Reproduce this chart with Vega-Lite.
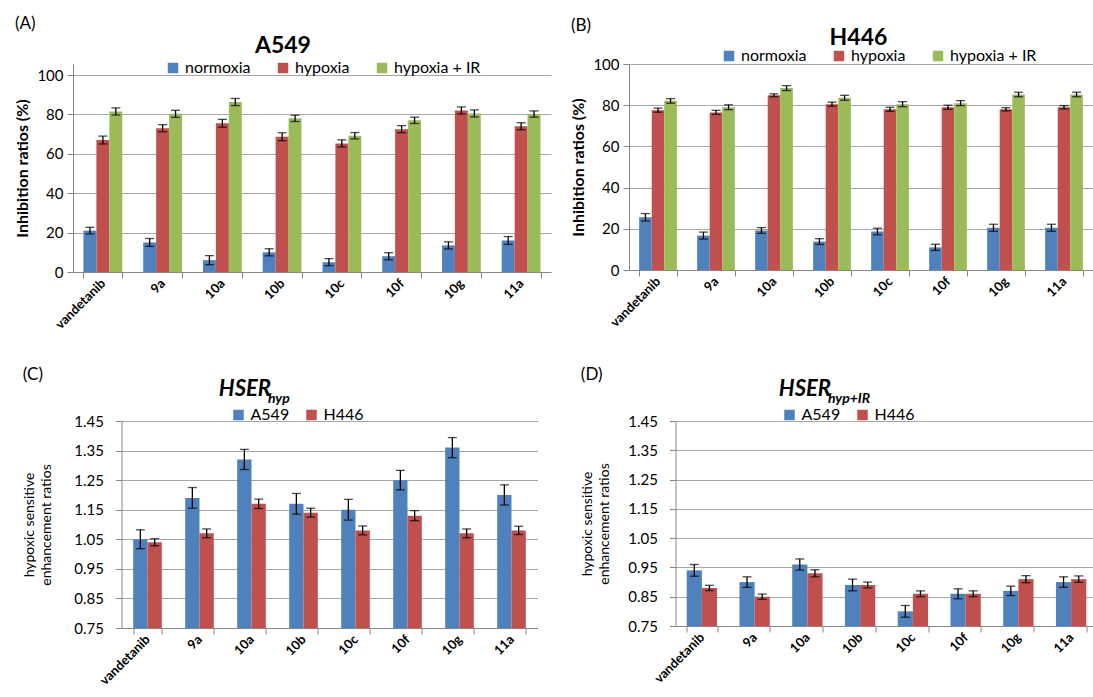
{
  "$schema": "https://vega.github.io/schema/vega-lite/v6.json",
  "autosize": {"type": "pad"},
  "padding": {"left": 14, "top": 15, "right": 0, "bottom": 0},
  "background": "white",
  "datasets": {
    "A": [
      {"compound": "vandetanib", "cond": "normoxia", "v": 21, "lo": 19.3, "hi": 22.7},
      {"compound": "vandetanib", "cond": "hypoxia", "v": 67, "lo": 65, "hi": 69},
      {"compound": "vandetanib", "cond": "hypoxia + IR", "v": 81.5, "lo": 79.7, "hi": 83.3},
      {"compound": "9a", "cond": "normoxia", "v": 15, "lo": 13, "hi": 17},
      {"compound": "9a", "cond": "hypoxia", "v": 73, "lo": 71.2, "hi": 74.8},
      {"compound": "9a", "cond": "hypoxia + IR", "v": 80.3, "lo": 78.5, "hi": 82.1},
      {"compound": "10a", "cond": "normoxia", "v": 6, "lo": 3.7, "hi": 8.3},
      {"compound": "10a", "cond": "hypoxia", "v": 75.5, "lo": 73.5, "hi": 77.5},
      {"compound": "10a", "cond": "hypoxia + IR", "v": 86.3, "lo": 84.5, "hi": 88.1},
      {"compound": "10b", "cond": "normoxia", "v": 10, "lo": 8.2, "hi": 11.8},
      {"compound": "10b", "cond": "hypoxia", "v": 68.7, "lo": 66.7, "hi": 70.7},
      {"compound": "10b", "cond": "hypoxia + IR", "v": 78, "lo": 76.4, "hi": 79.6},
      {"compound": "10c", "cond": "normoxia", "v": 5, "lo": 3.2, "hi": 6.8},
      {"compound": "10c", "cond": "hypoxia", "v": 65.3, "lo": 63.5, "hi": 67.1},
      {"compound": "10c", "cond": "hypoxia + IR", "v": 69.2, "lo": 67.6, "hi": 70.8},
      {"compound": "10f", "cond": "normoxia", "v": 8, "lo": 6.2, "hi": 9.8},
      {"compound": "10f", "cond": "hypoxia", "v": 72.5, "lo": 70.7, "hi": 74.3},
      {"compound": "10f", "cond": "hypoxia + IR", "v": 77, "lo": 75.4, "hi": 78.6},
      {"compound": "10g", "cond": "normoxia", "v": 13.5, "lo": 11.7, "hi": 15.3},
      {"compound": "10g", "cond": "hypoxia", "v": 82, "lo": 80.2, "hi": 83.8},
      {"compound": "10g", "cond": "hypoxia + IR", "v": 80.5, "lo": 78.7, "hi": 82.3},
      {"compound": "11a", "cond": "normoxia", "v": 16, "lo": 14, "hi": 18},
      {"compound": "11a", "cond": "hypoxia", "v": 74, "lo": 72.2, "hi": 75.8},
      {"compound": "11a", "cond": "hypoxia + IR", "v": 80.2, "lo": 78.6, "hi": 81.8}
    ],
    "B": [
      {"compound": "vandetanib", "cond": "normoxia", "v": 25.6, "lo": 23.8, "hi": 27.4},
      {"compound": "vandetanib", "cond": "hypoxia", "v": 77.6, "lo": 76.6, "hi": 78.6},
      {"compound": "vandetanib", "cond": "hypoxia + IR", "v": 82.1, "lo": 81, "hi": 83.2},
      {"compound": "9a", "cond": "normoxia", "v": 16.7, "lo": 15, "hi": 18.4},
      {"compound": "9a", "cond": "hypoxia", "v": 76.5, "lo": 75.5, "hi": 77.5},
      {"compound": "9a", "cond": "hypoxia + IR", "v": 79, "lo": 77.8, "hi": 80.2},
      {"compound": "10a", "cond": "normoxia", "v": 19.2, "lo": 17.8, "hi": 20.6},
      {"compound": "10a", "cond": "hypoxia", "v": 84.8, "lo": 84.1, "hi": 85.5},
      {"compound": "10a", "cond": "hypoxia + IR", "v": 88.3, "lo": 87.1, "hi": 89.5},
      {"compound": "10b", "cond": "normoxia", "v": 13.8, "lo": 12.4, "hi": 15.2},
      {"compound": "10b", "cond": "hypoxia", "v": 80.5, "lo": 79.5, "hi": 81.5},
      {"compound": "10b", "cond": "hypoxia + IR", "v": 83.6, "lo": 82.4, "hi": 84.8},
      {"compound": "10c", "cond": "normoxia", "v": 18.7, "lo": 17.1, "hi": 20.3},
      {"compound": "10c", "cond": "hypoxia", "v": 78, "lo": 77, "hi": 79},
      {"compound": "10c", "cond": "hypoxia + IR", "v": 80.5, "lo": 79.3, "hi": 81.7},
      {"compound": "10f", "cond": "normoxia", "v": 11, "lo": 9.5, "hi": 12.5},
      {"compound": "10f", "cond": "hypoxia", "v": 79, "lo": 78, "hi": 80},
      {"compound": "10f", "cond": "hypoxia + IR", "v": 81, "lo": 79.8, "hi": 82.2},
      {"compound": "10g", "cond": "normoxia", "v": 20.5, "lo": 18.8, "hi": 22.2},
      {"compound": "10g", "cond": "hypoxia", "v": 78, "lo": 77.2, "hi": 78.8},
      {"compound": "10g", "cond": "hypoxia + IR", "v": 85.2, "lo": 84.1, "hi": 86.3},
      {"compound": "11a", "cond": "normoxia", "v": 20.5, "lo": 18.8, "hi": 22.2},
      {"compound": "11a", "cond": "hypoxia", "v": 79, "lo": 78.2, "hi": 79.8},
      {"compound": "11a", "cond": "hypoxia + IR", "v": 85.2, "lo": 84.1, "hi": 86.3}
    ],
    "C": [
      {"compound": "vandetanib", "cell": "A549", "v": 1.05, "lo": 1.018, "hi": 1.082},
      {"compound": "vandetanib", "cell": "H446", "v": 1.04, "lo": 1.028, "hi": 1.052},
      {"compound": "9a", "cell": "A549", "v": 1.19, "lo": 1.155, "hi": 1.225},
      {"compound": "9a", "cell": "H446", "v": 1.07, "lo": 1.055, "hi": 1.085},
      {"compound": "10a", "cell": "A549", "v": 1.32, "lo": 1.286, "hi": 1.354},
      {"compound": "10a", "cell": "H446", "v": 1.17, "lo": 1.154, "hi": 1.186},
      {"compound": "10b", "cell": "A549", "v": 1.17, "lo": 1.135, "hi": 1.205},
      {"compound": "10b", "cell": "H446", "v": 1.14, "lo": 1.125, "hi": 1.155},
      {"compound": "10c", "cell": "A549", "v": 1.15, "lo": 1.115, "hi": 1.185},
      {"compound": "10c", "cell": "H446", "v": 1.08, "lo": 1.065, "hi": 1.095},
      {"compound": "10f", "cell": "A549", "v": 1.25, "lo": 1.217, "hi": 1.283},
      {"compound": "10f", "cell": "H446", "v": 1.13, "lo": 1.113, "hi": 1.147},
      {"compound": "10g", "cell": "A549", "v": 1.36, "lo": 1.326, "hi": 1.394},
      {"compound": "10g", "cell": "H446", "v": 1.07, "lo": 1.055, "hi": 1.085},
      {"compound": "11a", "cell": "A549", "v": 1.2, "lo": 1.166, "hi": 1.234},
      {"compound": "11a", "cell": "H446", "v": 1.08, "lo": 1.066, "hi": 1.094}
    ],
    "D": [
      {"compound": "vandetanib", "cell": "A549", "v": 0.94, "lo": 0.92, "hi": 0.96},
      {"compound": "vandetanib", "cell": "H446", "v": 0.88, "lo": 0.871, "hi": 0.889},
      {"compound": "9a", "cell": "A549", "v": 0.9, "lo": 0.882, "hi": 0.918},
      {"compound": "9a", "cell": "H446", "v": 0.85, "lo": 0.841, "hi": 0.859},
      {"compound": "10a", "cell": "A549", "v": 0.96, "lo": 0.941, "hi": 0.979},
      {"compound": "10a", "cell": "H446", "v": 0.93, "lo": 0.918, "hi": 0.942},
      {"compound": "10b", "cell": "A549", "v": 0.89, "lo": 0.87, "hi": 0.91},
      {"compound": "10b", "cell": "H446", "v": 0.89, "lo": 0.88, "hi": 0.9},
      {"compound": "10c", "cell": "A549", "v": 0.8, "lo": 0.78, "hi": 0.82},
      {"compound": "10c", "cell": "H446", "v": 0.86, "lo": 0.85, "hi": 0.87},
      {"compound": "10f", "cell": "A549", "v": 0.86, "lo": 0.843, "hi": 0.877},
      {"compound": "10f", "cell": "H446", "v": 0.86, "lo": 0.85, "hi": 0.87},
      {"compound": "10g", "cell": "A549", "v": 0.87, "lo": 0.854, "hi": 0.886},
      {"compound": "10g", "cell": "H446", "v": 0.91, "lo": 0.898, "hi": 0.922},
      {"compound": "11a", "cell": "A549", "v": 0.9, "lo": 0.882, "hi": 0.918},
      {"compound": "11a", "cell": "H446", "v": 0.91, "lo": 0.899, "hi": 0.921}
    ]
  },
  "center": true,
  "spacing": 34,
  "resolve": {"scale": {"color": "independent", "x": "independent", "y": "independent", "xOffset": "independent"}, "legend": {"color": "independent"}},
  "vconcat": [
    {
      "spacing": 19,
      "resolve": {"scale": {"color": "independent", "x": "independent", "y": "independent", "xOffset": "independent"}, "legend": {"color": "independent"}},
      "hconcat": [
        {
          "title": {"text": "(A)", "anchor": "start", "frame": "bounds", "fontSize": 17, "fontWeight": "normal", "offset": 2},
          "resolve": {"scale": {"color": "independent"}, "legend": {"color": "independent"}},
          "vconcat": [
            {
              "data": {"name": "A"},
              "width": 478,
              "height": 208,
              "title": {"text": "A549", "fontSize": 23, "fontWeight": "bold", "anchor": "middle", "frame": "bounds", "offset": 2},
              "encoding": {
                "x": {"field": "compound", "type": "nominal", "sort": ["vandetanib", "9a", "10a", "10b", "10c", "10f", "10g", "11a"], "title": null,
                  "scale": {"paddingInner": 0.35, "paddingOuter": 0.175},
                  "axis": {"labelAngle": -45, "labelAlign": "right", "labelBaseline": "middle", "labelFontWeight": "bold", "labelFontSize": 13, "tickBand": "extent", "tickSize": 6, "labelPadding": 3, "grid": false, "labelOverlap": false}},
                "xOffset": {"field": "cond", "type": "nominal", "sort": ["normoxia", "hypoxia", "hypoxia + IR"]}
              },
              "layer": [
                {"mark": {"type": "bar"},
                  "encoding": {
                    "y": {"field": "v", "type": "quantitative", "title": "Inhibition ratios (%)", "scale": {"domain": [0, 105.6], "nice": false},
                      "axis": {"values": [0, 20, 40, 60, 80, 100], "tickCount": 20, "labelOverlap": false, "titleFontSize": 16, "titleFontWeight": "bold", "titlePadding": 6, "labelFontSize": 15, "tickSize": 6, "labelPadding": 4}},
                    "color": {"field": "cond", "type": "nominal", "scale": {"domain": ["normoxia", "hypoxia", "hypoxia + IR"], "range": ["#4F81BD", "#C0504D", "#9BBB59"]},
                      "legend": {"title": null, "orient": "none", "legendX": 92, "legendY": -4, "direction": "horizontal", "symbolType": "square", "symbolSize": 110, "labelFontSize": 16, "columnPadding": 24, "padding": 0}}
                  }},
                {"mark": {"type": "rule", "color": "black", "strokeWidth": 1.3},
                  "encoding": {"y": {"field": "lo", "type": "quantitative", "title": "Inhibition ratios (%)"}, "y2": {"field": "hi"}}},
                {"mark": {"type": "tick", "color": "black", "size": 9, "thickness": 1.3},
                  "encoding": {"y": {"field": "lo", "type": "quantitative", "title": "Inhibition ratios (%)"}}},
                {"mark": {"type": "tick", "color": "black", "size": 9, "thickness": 1.3},
                  "encoding": {"y": {"field": "hi", "type": "quantitative", "title": "Inhibition ratios (%)"}}}
              ]
            }
          ]
        },
        {
          "title": {"text": "(B)", "anchor": "start", "frame": "bounds", "fontSize": 17, "fontWeight": "normal", "offset": -8},
          "resolve": {"scale": {"color": "independent"}, "legend": {"color": "independent"}},
          "vconcat": [
            {
              "data": {"name": "B"},
              "width": 464,
              "height": 206,
              "title": {"text": "H446", "fontSize": 23, "fontWeight": "bold", "anchor": "middle", "frame": "bounds", "offset": -2},
              "encoding": {
                "x": {"field": "compound", "type": "nominal", "sort": ["vandetanib", "9a", "10a", "10b", "10c", "10f", "10g", "11a"], "title": null,
                  "scale": {"paddingInner": 0.35, "paddingOuter": 0.175},
                  "axis": {"labelAngle": -45, "labelAlign": "right", "labelBaseline": "middle", "labelFontWeight": "bold", "labelFontSize": 13, "tickBand": "extent", "tickSize": 6, "labelPadding": 3, "grid": false, "labelOverlap": false}},
                "xOffset": {"field": "cond", "type": "nominal", "sort": ["normoxia", "hypoxia", "hypoxia + IR"]}
              },
              "layer": [
                {"mark": {"type": "bar"},
                  "encoding": {
                    "y": {"field": "v", "type": "quantitative", "title": "Inhibition ratios (%)", "scale": {"domain": [0, 100], "nice": false},
                      "axis": {"values": [0, 20, 40, 60, 80, 100], "tickCount": 20, "labelOverlap": false, "titleFontSize": 16, "titleFontWeight": "bold", "titlePadding": 6, "labelFontSize": 15, "tickSize": 6, "labelPadding": 4}},
                    "color": {"field": "cond", "type": "nominal", "scale": {"domain": ["normoxia", "hypoxia", "hypoxia + IR"], "range": ["#4F81BD", "#C0504D", "#9BBB59"]},
                      "legend": {"title": "\u200b\u2003\u2003\u2003\u2003\u2003\u2003\u2003\u2003\u2003\u2003\u200b", "titleOrient": "right", "titleFontSize": 14, "titlePadding": 5, "orient": "none", "legendX": 92, "legendY": -16, "direction": "horizontal", "symbolType": "square", "symbolSize": 110, "labelFontSize": 16, "columnPadding": 24, "padding": 0}}
                  }},
                {"mark": {"type": "rule", "color": "black", "strokeWidth": 1.3},
                  "encoding": {"y": {"field": "lo", "type": "quantitative", "title": "Inhibition ratios (%)"}, "y2": {"field": "hi"}}},
                {"mark": {"type": "tick", "color": "black", "size": 9, "thickness": 1.3},
                  "encoding": {"y": {"field": "lo", "type": "quantitative", "title": "Inhibition ratios (%)"}}},
                {"mark": {"type": "tick", "color": "black", "size": 9, "thickness": 1.3},
                  "encoding": {"y": {"field": "hi", "type": "quantitative", "title": "Inhibition ratios (%)"}}}
              ]
            }
          ]
        }
      ]
    },
    {
      "spacing": 43,
      "resolve": {"scale": {"color": "independent", "x": "independent", "y": "independent", "xOffset": "independent"}, "legend": {"color": "independent"}},
      "hconcat": [
        {
          "title": {"text": "(C)", "anchor": "start", "frame": "bounds", "fontSize": 17, "fontWeight": "normal", "offset": -6},
          "resolve": {"scale": {"color": "independent"}, "legend": {"color": "independent"}},
          "vconcat": [
            {
              "data": {"name": "C"},
              "width": 416,
              "height": 207,
              "title": {"text": "HSER", "subtitle": "\u200b\u00a0\u00a0\u00a0\u00a0\u00a0\u00a0\u00a0\u00a0\u00a0\u00a0\u00a0\u00a0\u00a0\u00a0\u00a0\u00a0hyp", "anchor": "start", "frame": "bounds", "dx": 196, "fontSize": 22, "fontStyle": "italic", "fontWeight": "bold", "subtitleFontSize": 14, "subtitleFontStyle": "italic", "subtitleFontWeight": "bold", "subtitleColor": "black", "subtitlePadding": -9, "offset": 0},
              "encoding": {
                "x": {"field": "compound", "type": "nominal", "sort": ["vandetanib", "9a", "10a", "10b", "10c", "10f", "10g", "11a"], "title": null,
                  "scale": {"paddingInner": 0.45, "paddingOuter": 0.225},
                  "axis": {"labelAngle": -45, "labelAlign": "right", "labelBaseline": "middle", "labelFontWeight": "bold", "labelFontSize": 13, "tickBand": "extent", "tickSize": 6, "labelPadding": 3, "grid": false, "labelOverlap": false}},
                "xOffset": {"field": "cell", "type": "nominal", "sort": ["A549", "H446"]}
              },
              "layer": [
                {"mark": {"type": "bar"},
                  "encoding": {
                    "y": {"field": "v", "type": "quantitative", "title": ["hypoxic sensitive", "enhancement ratios"], "scale": {"domain": [0.75, 1.45], "nice": false, "zero": false},
                      "axis": {"values": [0.75, 0.85, 0.95, 1.05, 1.15, 1.25, 1.35, 1.45], "tickCount": 20, "format": ".2f", "labelOverlap": false, "titleFontSize": 14, "titleFontWeight": "normal", "titleLineHeight": 17, "titlePadding": 20, "labelFontSize": 15, "tickSize": 6, "labelPadding": 12}},
                    "y2": {"datum": 0.75},
                    "color": {"field": "cell", "type": "nominal", "scale": {"domain": ["A549", "H446"], "range": ["#4F81BD", "#C0504D"]},
                      "legend": {"title": null, "orient": "none", "legendX": 109, "legendY": -14, "direction": "horizontal", "symbolType": "square", "symbolSize": 110, "labelFontSize": 16, "columnPadding": 14, "padding": 0}}
                  }},
                {"mark": {"type": "rule", "color": "black", "strokeWidth": 1.3},
                  "encoding": {"y": {"field": "lo", "type": "quantitative", "title": ["hypoxic sensitive", "enhancement ratios"]}, "y2": {"field": "hi"}}},
                {"mark": {"type": "tick", "color": "black", "size": 9, "thickness": 1.3},
                  "encoding": {"y": {"field": "lo", "type": "quantitative", "title": ["hypoxic sensitive", "enhancement ratios"]}}},
                {"mark": {"type": "tick", "color": "black", "size": 9, "thickness": 1.3},
                  "encoding": {"y": {"field": "hi", "type": "quantitative", "title": ["hypoxic sensitive", "enhancement ratios"]}}}
              ]
            }
          ]
        },
        {
          "title": {"text": "(D)", "anchor": "start", "frame": "bounds", "fontSize": 17, "fontWeight": "normal", "offset": -6},
          "resolve": {"scale": {"color": "independent"}, "legend": {"color": "independent"}},
          "vconcat": [
            {
              "data": {"name": "D"},
              "width": 422,
              "height": 205,
              "title": {"text": "HSER", "subtitle": "\u200b\u00a0\u00a0\u00a0\u00a0\u00a0\u00a0\u00a0\u00a0\u00a0\u00a0\u00a0\u00a0\u00a0\u00a0\u00a0\u00a0hyp+IR", "anchor": "start", "frame": "bounds", "dx": 198, "fontSize": 22, "fontStyle": "italic", "fontWeight": "bold", "subtitleFontSize": 14, "subtitleFontStyle": "italic", "subtitleFontWeight": "bold", "subtitleColor": "black", "subtitlePadding": -9, "offset": 0},
              "encoding": {
                "x": {"field": "compound", "type": "nominal", "sort": ["vandetanib", "9a", "10a", "10b", "10c", "10f", "10g", "11a"], "title": null,
                  "scale": {"paddingInner": 0.425, "paddingOuter": 0.2125},
                  "axis": {"labelAngle": -45, "labelAlign": "right", "labelBaseline": "middle", "labelFontWeight": "bold", "labelFontSize": 13, "tickBand": "extent", "tickSize": 6, "labelPadding": 3, "grid": false, "labelOverlap": false}},
                "xOffset": {"field": "cell", "type": "nominal", "sort": ["A549", "H446"]}
              },
              "layer": [
                {"mark": {"type": "bar"},
                  "encoding": {
                    "y": {"field": "v", "type": "quantitative", "title": ["hypoxic sensitive", "enhancement ratios"], "scale": {"domain": [0.75, 1.45], "nice": false, "zero": false},
                      "axis": {"values": [0.75, 0.85, 0.95, 1.05, 1.15, 1.25, 1.35, 1.45], "tickCount": 20, "format": ".2f", "labelOverlap": false, "titleFontSize": 14, "titleFontWeight": "normal", "titleLineHeight": 17, "titlePadding": 16, "labelFontSize": 15, "tickSize": 6, "labelPadding": 12}},
                    "y2": {"datum": 0.75},
                    "color": {"field": "cell", "type": "nominal", "scale": {"domain": ["A549", "H446"], "range": ["#4F81BD", "#C0504D"]},
                      "legend": {"title": null, "orient": "none", "legendX": 106, "legendY": -14, "direction": "horizontal", "symbolType": "square", "symbolSize": 110, "labelFontSize": 16, "columnPadding": 14, "padding": 0}}
                  }},
                {"mark": {"type": "rule", "color": "black", "strokeWidth": 1.3},
                  "encoding": {"y": {"field": "lo", "type": "quantitative", "title": ["hypoxic sensitive", "enhancement ratios"]}, "y2": {"field": "hi"}}},
                {"mark": {"type": "tick", "color": "black", "size": 9, "thickness": 1.3},
                  "encoding": {"y": {"field": "lo", "type": "quantitative", "title": ["hypoxic sensitive", "enhancement ratios"]}}},
                {"mark": {"type": "tick", "color": "black", "size": 9, "thickness": 1.3},
                  "encoding": {"y": {"field": "hi", "type": "quantitative", "title": ["hypoxic sensitive", "enhancement ratios"]}}}
              ]
            }
          ]
        }
      ]
    }
  ],
  "config": {
    "font": "Lato",
    "view": {"stroke": null},
    "title": {"font": "Lato", "color": "black", "subtitleFont": "Lato"},
    "axis": {"labelFont": "Lato", "titleFont": "Lato", "labelColor": "black", "titleColor": "black", "gridColor": "#a6a6a6", "domainColor": "#868686", "tickColor": "#868686", "gridWidth": 1, "domainWidth": 1},
    "legend": {"labelFont": "Lato", "labelColor": "black", "titleFont": "Lato"}
  }
}
